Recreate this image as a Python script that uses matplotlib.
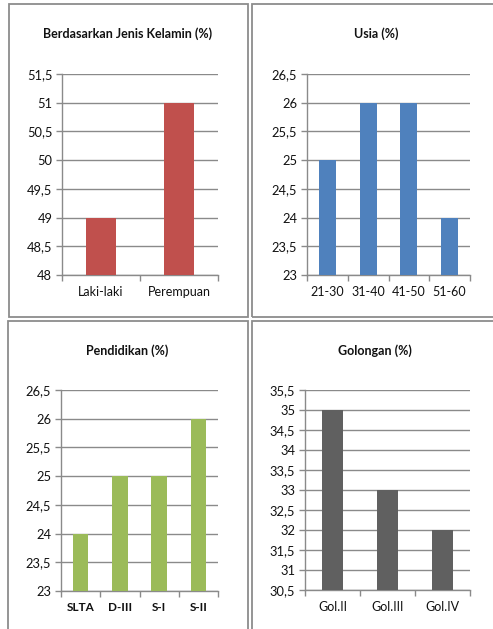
import matplotlib
matplotlib.use("Agg")
import matplotlib.pyplot as plt
from matplotlib.patches import Rectangle

plt.rcParams['font.family'] = ['Lato', 'DejaVu Sans']

# ---- data ----
gender_cats = ["Laki-laki", "Perempuan"]
gender_vals = [49, 51]
gender_ticks = [48, 48.5, 49, 49.5, 50, 50.5, 51, 51.5]

age_cats = ["21-30", "31-40", "41-50", "51-60"]
age_vals = [25, 26, 26, 24]
age_ticks = [23, 23.5, 24, 24.5, 25, 25.5, 26, 26.5]

edu_cats = ["SLTA", "D-III", "S-I", "S-II"]
edu_vals = [24, 25, 25, 26]
edu_ticks = [23, 23.5, 24, 24.5, 25, 25.5, 26, 26.5]

gol_cats = ["Gol.II", "Gol.III", "Gol.IV"]
gol_vals = [35, 33, 32]
gol_ticks = [30.5, 31, 31.5, 32, 32.5, 33, 33.5, 34, 34.5, 35, 35.5]

W, H = 493, 629
fig = plt.figure(figsize=(W / 100, H / 100), dpi=100)
fig.patch.set_facecolor("white")

GRID = "#8a8a8a"

def fmt(v):
    s = ("%g" % v)
    return s.replace(".", ",")

def px_axes(l, r, t, b):
    return fig.add_axes([l / W, 1 - b / H, (r - l) / W, (b - t) / H])

def panel(box, rect, title, title_xy, cats, vals, ticks, color, width, bold_x=False):
    x0, y0, x1, y1 = box
    fig.patches.append(Rectangle((x0 / W, 1 - y1 / H), (x1 - x0) / W, (y1 - y0) / H,
                                 transform=fig.transFigure, fill=False,
                                 edgecolor="#8c8c8c", linewidth=1.3))
    ax = px_axes(*rect)
    n = len(cats)
    xs = list(range(n))
    ax.bar(xs, vals, width=width, color=color, zorder=3)
    ax.set_xlim(-0.5, n - 0.5)
    ax.set_ylim(ticks[0], ticks[-1])
    ax.set_yticks(ticks)
    ax.set_yticklabels([fmt(t) for t in ticks])
    ax.yaxis.grid(True, color=GRID, linewidth=1.0, zorder=0)
    ax.set_axisbelow(True)
    for s in ["top", "right"]:
        ax.spines[s].set_visible(False)
    for s in ["left", "bottom"]:
        ax.spines[s].set_color(GRID)
        ax.spines[s].set_linewidth(1.0)
    ax.set_xticks([i - 0.5 for i in range(n + 1)])
    ax.set_xticklabels([])
    ax.set_xticks(xs, minor=True)
    ax.set_xticklabels(cats, minor=True)
    ax.tick_params(axis="x", which="major", length=4, width=1.0, color=GRID, direction="out")
    ax.tick_params(axis="x", which="minor", length=0, pad=8, labelsize=9,
                   labelcolor="#111111")
    ax.tick_params(axis="y", length=4, width=1.0, color=GRID, direction="out",
                   labelsize=9.3, labelcolor="#111111", pad=3)
    if bold_x:
        for lbl in ax.get_xticklabels(minor=True):
            lbl.set_fontweight("bold")
            lbl.set_fontsize(8.5)
    fig.text(title_xy[0] / W, 1 - title_xy[1] / H, title, ha="center", va="center",
             fontsize=9, fontweight="bold", color="#111111")
    return ax

panel((9, 4, 248, 317), (62, 218, 74, 275), "Berdasarkan Jenis Kelamin (%)", (128, 34),
      gender_cats, gender_vals, gender_ticks, "#C0504D", 0.39)
panel((252, 4, 520, 317), (307, 470, 74, 275), "Usia (%)", (376, 34),
      age_cats, age_vals, age_ticks, "#4F81BD", 0.42)
panel((8, 321, 248, 660), (61, 218, 390, 591), "Pendidikan (%)", (127, 351),
      edu_cats, edu_vals, edu_ticks, "#9BBB59", 0.40, bold_x=True)
panel((252, 321, 520, 660), (305, 470, 390, 590), "Golongan (%)", (375, 351),
      gol_cats, gol_vals, gol_ticks, "#606060", 0.38)

fig.savefig("out.png", dpi=100, facecolor="white")
